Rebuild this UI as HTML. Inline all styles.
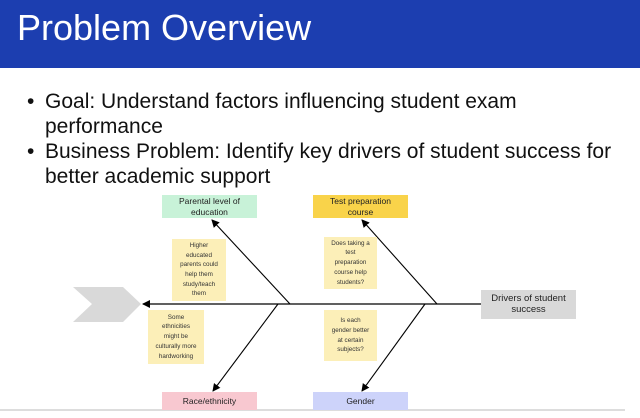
<!DOCTYPE html>
<html><head><meta charset="utf-8"><style>
body{margin:0;width:640px;height:418px;overflow:hidden;background:#fff;font-family:"Liberation Sans",sans-serif;position:relative}
.hdr{position:absolute;left:0;top:0;width:640px;height:68px;background:#1c3eb0}
.hdr span{position:absolute;left:17px;top:8px;font-size:36px;line-height:40px;color:#fff}
.l{position:absolute;left:45px;font-size:21px;line-height:25px;color:#111;white-space:nowrap}
.dot{position:absolute;left:27px;font-size:21px;line-height:25px;color:#111}
.box{position:absolute;display:flex;align-items:center;justify-content:center;text-align:center;font-size:8.5px;line-height:10.5px;color:#222}
.note{position:absolute;display:flex;align-items:center;justify-content:center;text-align:center;font-size:6.3px;line-height:9.7px;color:#333;background:#fcefb8}
</style></head><body>
<div class="hdr"><span>Problem Overview</span></div>
<div class="dot" style="top:89px">•</div>
<div class="l" style="top:89px">Goal: Understand factors influencing student exam</div>
<div class="l" style="top:114px">performance</div>
<div class="dot" style="top:139px">•</div>
<div class="l" style="top:139px">Business Problem: Identify key drivers of student success for</div>
<div class="l" style="top:164px">better academic support</div>
<svg width="640" height="418" style="position:absolute;left:0;top:0">
<defs><marker id="a" markerWidth="8" markerHeight="8" refX="7" refY="4" orient="auto" markerUnits="userSpaceOnUse"><path d="M0,0 L8,4 L0,8 Z" fill="#000"/></marker></defs>
<polygon points="73,287 123,287 141,304 123,322 73,322 92,304" fill="#d9d9d9"/>
<line x1="481" y1="304" x2="143" y2="304" stroke="#000" stroke-width="1.3" marker-end="url(#a)"/>
<line x1="290" y1="304" x2="212" y2="220" stroke="#000" stroke-width="1.1" marker-end="url(#a)"/>
<line x1="278" y1="304" x2="213" y2="391" stroke="#000" stroke-width="1.1" marker-end="url(#a)"/>
<line x1="437" y1="304" x2="362" y2="220" stroke="#000" stroke-width="1.1" marker-end="url(#a)"/>
<line x1="425" y1="304" x2="362" y2="391" stroke="#000" stroke-width="1.1" marker-end="url(#a)"/>
<line x1="0" y1="410" x2="625" y2="410" stroke="#bbb" stroke-width="1"/>
</svg>
<div class="box" style="left:162px;top:195px;width:95px;height:23px;background:#c8f2d8">Parental level of<br>education</div>
<div class="box" style="left:313px;top:195px;width:95px;height:23px;background:#f9d34a">Test preparation<br>course</div>
<div class="box" style="left:481px;top:290px;width:95px;height:29px;background:#d9d9d9;font-size:9.5px;line-height:10.5px">Drivers of student<br>success</div>
<div class="box" style="left:162px;top:392px;width:95px;height:18px;background:#f8c8d0">Race/ethnicity</div>
<div class="box" style="left:313px;top:392px;width:95px;height:18px;background:#cdd3fa">Gender</div>
<div class="note" style="left:172px;top:239px;width:54px;height:62px">Higher<br>educated<br>parents could<br>help them<br>study/teach<br>them</div>
<div class="note" style="left:148px;top:310px;width:56px;height:54px">Some<br>ethnicities<br>might be<br>culturally more<br>hardworking</div>
<div class="note" style="left:324px;top:237px;width:53px;height:52px">Does taking a<br>test<br>preparation<br>course help<br>students?</div>
<div class="note" style="left:324px;top:310px;width:53px;height:51px">Is each<br>gender better<br>at certain<br>subjects?</div>
</body></html>
